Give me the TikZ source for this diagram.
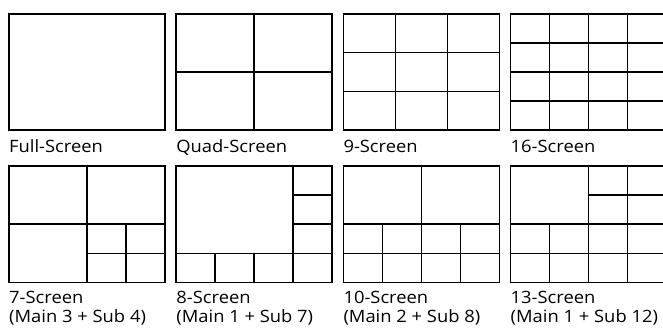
\documentclass[tikz,border=0pt]{standalone}
\usepackage{fontspec}
\setmainfont{Open Sans}[FakeStretch=1.08]
\usetikzlibrary{calc}

\begin{document}
\begin{tikzpicture}[x=1pt, y=-1pt,
  screen/.style={draw, line width=1.6pt, minimum width=156pt, minimum height=116.5pt, inner sep=0pt, outer sep=0pt},
  div/.style={line width=1.6pt},
  lbl/.style={anchor=base west, inner sep=0pt, font=\fontsize{17}{19}\selectfont}
]
\clip (0,0) rectangle (663,327);
% top row
\node[screen] (full) at (87,72) {};
\node[screen] (quad) at (254.2,72) {};
\node[screen] (nine) at (421.3,72) {};
\node[screen] (sixteen) at (588.5,72) {};
\draw[div] (quad.north) -- (quad.south);
\draw[div] (quad.west) -- (quad.east);
\foreach \f in {1/3,2/3} {
  \draw[div] ($(nine.north west)+(\f*156,0)$) -- ++(0,116.5);
  \draw[div] ($(nine.north west)+(0,\f*116.5)$) -- ++(156,0);
}
\foreach \f in {0.25,0.5,0.75} {
  \draw[div] ($(sixteen.north west)+(\f*156,0)$) -- ++(0,116.5);
  \draw[div] ($(sixteen.north west)+(0,\f*116.5)$) -- ++(156,0);
}
\node[lbl] (fulllbl) at (9,152) {Full-Screen};
\node[lbl] (quadlbl) at (176.2,152) {Quad-Screen};
\node[lbl] (ninelbl) at (343.3,152) {9-Screen};
\node[lbl] (sixteenlbl) at (510.5,152) {16-Screen};
% bottom row
\node[screen] (seven) at (87,224.2) {};
\node[screen] (eight) at (254.2,224.2) {};
\node[screen] (ten) at (421.3,224.2) {};
\node[screen] (thirteen) at (588.5,224.2) {};
% 7: main 3 + sub 4
\draw[div] (seven.north) -- (seven.south);
\draw[div] (seven.west) -- (seven.east);
\draw[div] ($(seven.north west)+(0.75*156,0.5*116.5)$) -- ++(0,0.5*116.5);
\draw[div] ($(seven.north west)+(0.5*156,0.75*116.5)$) -- ++(0.5*156,0);
% 8: main 1 + sub 7
\draw[div] ($(eight.north west)+(0.75*156,0)$) -- ++(0,116.5);
\draw[div] ($(eight.north west)+(0,0.75*116.5)$) -- ++(156,0);
\foreach \f in {0.25,0.5} {
  \draw[div] ($(eight.north west)+(0.75*156,\f*116.5)$) -- ++(0.25*156,0);
  \draw[div] ($(eight.north west)+(\f*156,0.75*116.5)$) -- ++(0,0.25*116.5);
}
% 10: main 2 + sub 8
\draw[div] (ten.north) -- (ten.south);
\draw[div] (ten.west) -- (ten.east);
\draw[div] ($(ten.north west)+(0,0.75*116.5)$) -- ++(156,0);
\foreach \f in {0.25,0.75}
  \draw[div] ($(ten.north west)+(\f*156,0.5*116.5)$) -- ++(0,0.5*116.5);
% 13: main 1 + sub 12
\draw[div] (thirteen.north) -- (thirteen.south);
\draw[div] (thirteen.west) -- (thirteen.east);
\draw[div] ($(thirteen.north west)+(0.75*156,0)$) -- ++(0,116.5);
\draw[div] ($(thirteen.north west)+(0,0.75*116.5)$) -- ++(156,0);
\draw[div] ($(thirteen.north west)+(0.5*156,0.25*116.5)$) -- ++(0.5*156,0);
\draw[div] ($(thirteen.north west)+(0.25*156,0.5*116.5)$) -- ++(0,0.5*116.5);
\node[lbl] (sevenlbl) at (9,303.7) {7-Screen};
\node[lbl] (sevensub) at (9,322.3) {(Main 3 + Sub 4)};
\node[lbl] (eightlbl) at (176.2,303.7) {8-Screen};
\node[lbl] (eightsub) at (176.2,322.3) {(Main 1 + Sub 7)};
\node[lbl] (tenlbl) at (343.3,303.7) {10-Screen};
\node[lbl] (tensub) at (343.3,322.3) {(Main 2 + Sub 8)};
\node[lbl] (thirteenlbl) at (510.5,303.7) {13-Screen};
\node[lbl] (thirteensub) at (510.5,322.3) {(Main 1 + Sub 12)};
\end{tikzpicture}
\end{document}
